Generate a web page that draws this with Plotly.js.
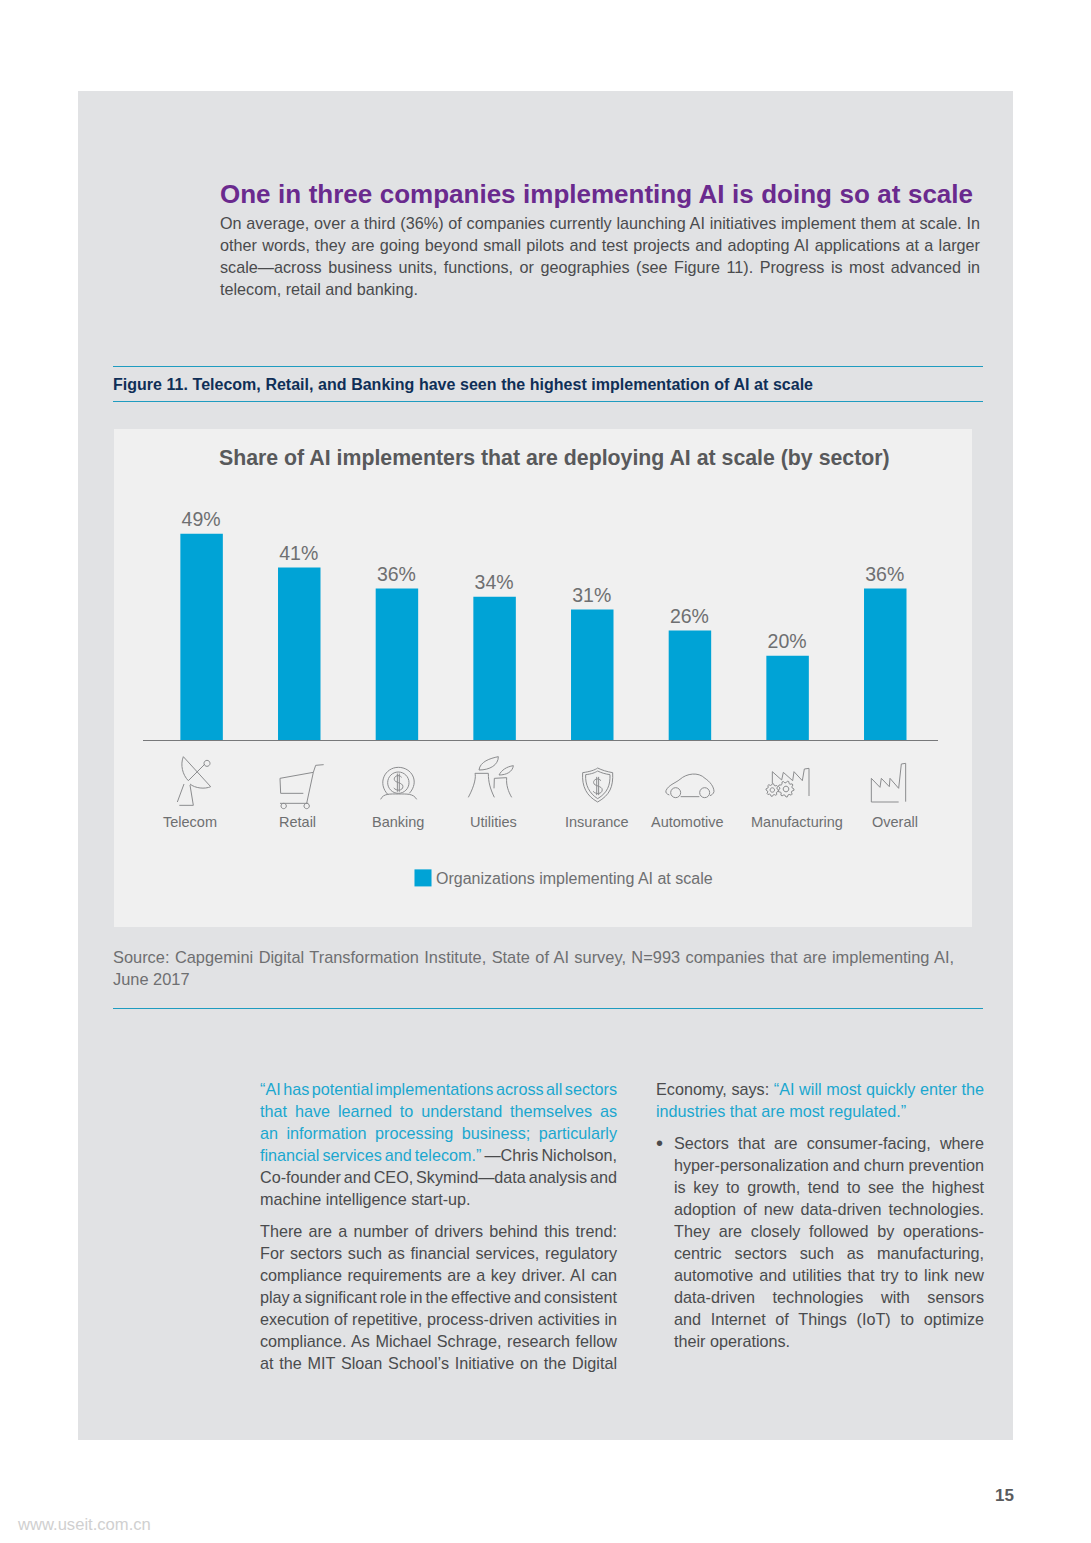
<!DOCTYPE html>
<html><head><meta charset="utf-8">
<script src="https://cdn.plot.ly/plotly-3.0.1.min.js"></script>
<style>html,body{margin:0;padding:0;background:#fff}</style></head>
<body><div id="chart" style="width:1091px;height:1543px"></div>
<script>
const W = 1091, H = 1543;
const categories = ["Telecom","Retail","Banking","Utilities","Insurance","Automotive","Manufacturing","Overall"];
const shareAtScale = [49,41,36,34,31,26,20,36];
const dataLabels = ["49%","41%","36%","34%","31%","26%","20%","36%"];
const seriesName = "Organizations implementing AI at scale";
const labelShift = [-12,-2,1,-1.5,4.5,-2,9,10];

const FONT = "Liberation Sans, Arial, sans-serif";
const GREY = "#6e6f71", BODY = "#4a4b4d", TEAL = "#1ba7cf", LINE = "#1f9cc0";
const px = x => x / W, py = y => 1 - y / H;

const annotations = [], justify = [];
function txt(x, y, text, o) {
  o = o || {};
  if (o.w) justify.push({ i: annotations.length, w: o.w });
  annotations.push({ xref: "paper", yref: "paper", x: px(x), y: py(y - 1), text, showarrow: false,
    xanchor: o.anchor || "left", yanchor: "middle", align: o.anchor === "center" ? "center" : "left",
    borderpad: 0, borderwidth: 0,
    font: { family: FONT, size: o.size || 16.2, color: o.color || BODY } });
}
const q = s => '<span style="color:' + TEAL + '">' + s + '</span>';

// heading
txt(220, 195, "<b>One in three companies implementing AI is doing so at scale</b>", { size: 26, color: "#6a2a8e", w: 753 });
["On average, over a third (36%) of companies currently launching AI initiatives implement them at scale. In",
 "other words, they are going beyond small pilots and test projects and adopting AI applications at a larger",
 "scale—across business units, functions, or geographies (see Figure 11). Progress is most advanced in"
].forEach((s, i) => txt(219.5, 224 + 22 * i, s, { w: 760 }));
txt(219.5, 290, "telecom, retail and banking.");
txt(113, 385, "<b>Figure 11. Telecom, Retail, and Banking have seen the highest implementation of AI at scale</b>", { size: 16, color: "#0f2f57", w: 700 });
txt(554, 458.5, "<b>Share of AI implementers that are deploying AI at scale (by sector)</b>", { size: 21.3, color: "#58595b", anchor: "center" });
txt(113, 958, "Source: Capgemini Digital Transformation Institute, State of AI survey, N=993 companies that are implementing AI,", { size: 16.4, color: GREY, w: 841 });
txt(113, 980, "June 2017", { size: 16.4, color: GREY });

// left column
[q("“AI has potential implementations across all sectors"),
 q("that have learned to understand themselves as"),
 q("an information processing business; particularly"),
 q("financial services and telecom.”") + " —Chris Nicholson,",
 "Co-founder and CEO, Skymind—data analysis and"
].forEach((s, i) => txt(260, 1090 + 22 * i, s, { w: 357 }));
txt(260, 1200, "machine intelligence start-up.");
["There are a number of drivers behind this trend:",
 "For sectors such as financial services, regulatory",
 "compliance requirements are a key driver. AI can",
 "play a significant role in the effective and consistent",
 "execution of repetitive, process-driven activities in",
 "compliance. As Michael Schrage, research fellow",
 "at the MIT Sloan School’s Initiative on the Digital"
].forEach((s, i) => txt(260, 1232 + 22 * i, s, { w: 357 }));

// right column
txt(656, 1090, "Economy, says: " + q("“AI will most quickly enter the"), { w: 328 });
txt(656, 1112, q("industries that are most regulated.”"));
txt(656, 1144, "•", { size: 20 });
["Sectors that are consumer-facing, where",
 "hyper-personalization and churn prevention",
 "is key to growth, tend to see the highest",
 "adoption of new data-driven technologies.",
 "They are closely followed by operations-",
 "centric sectors such as manufacturing,",
 "automotive and utilities that try to link new",
 "data-driven technologies with sensors",
 "and Internet of Things (IoT) to optimize"
].forEach((s, i) => txt(674, 1144 + 22 * i, s, { w: 310 }));
txt(674, 1342, "their operations.");

txt(1013.5, 1496, "<b>15</b>", { size: 17, color: "#5a5b5d", anchor: "right" });
txt(17, 1525, "www.useit.com.cn", { size: 16.6, color: "#d0d0d0" });

// sector names under the icons, tied to the category axis
categories.forEach((c, i) => annotations.push({
  xref: "x", yref: "paper", x: i, y: py(822), xshift: labelShift[i], text: c, showarrow: false,
  xanchor: "center", yanchor: "middle", font: { family: FONT, size: 14.5, color: GREY } }));

// page furniture
const rect = (x0, y0, x1, y1, fill) => ({ type: "rect", xref: "paper", yref: "paper", layer: "below",
  x0: px(x0), x1: px(x1), y0: py(y0), y1: py(y1), fillcolor: fill, line: { width: 0 } });
const hline = (y) => ({ type: "line", xref: "paper", yref: "paper", layer: "below",
  x0: px(113), x1: px(983), y0: py(y), y1: py(y), line: { color: LINE, width: 1 } });
const shapes = [rect(78, 91, 1013, 1440, "#e1e2e4"), rect(114, 429, 972, 927, "#f0f0f0"),
  hline(366.5), hline(401.5), hline(1008.5)];

// icons: outlines written in zoomed (3x) coordinates around an origin on the page
function circle(cx, cy, r) {
  const k = 0.5523 * r;
  return `M${cx - r},${cy} C${cx - r},${cy - k} ${cx - k},${cy - r} ${cx},${cy - r} C${cx + k},${cy - r} ${cx + r},${cy - k} ${cx + r},${cy} C${cx + r},${cy + k} ${cx + k},${cy + r} ${cx},${cy + r} C${cx - k},${cy + r} ${cx - r},${cy + k} ${cx - r},${cy} `;
}
function gear(cx, cy, r, teeth) {
  let d = "";
  for (let i = 0; i < teeth * 4; i++) {
    const a = i / (teeth * 4) * 2 * Math.PI, R = (i % 4 < 2) ? r : r * 0.78;
    d += (i ? "L" : "M") + (cx + R * Math.cos(a)).toFixed(1) + "," + (cy + R * Math.sin(a)).toFixed(1) + " ";
  }
  return d + "Z " + circle(cx, cy, r * 0.35);
}
function dollar(cx, cy, s) {
  const X = v => cx + v * s, Y = v => cy + v * s;
  return `M${X(14)},${Y(-22)} C${X(2)},${Y(-36)} ${X(-18)},${Y(-28)} ${X(-17)},${Y(-14)} C${X(-16)},${Y(2)} ${X(19)},${Y(-2)} ${X(19)},${Y(16)} C${X(19)},${Y(34)} ${X(-8)},${Y(36)} ${X(-19)},${Y(22)} M${X(-4)},${Y(-38)} L${X(-4)},${Y(38)} M${X(4)},${Y(-38)} L${X(4)},${Y(38)} `;
}
function iconPath(ox, oy, d) {
  return d.replace(/(-?[\d.]+),(-?[\d.]+)/g, (m, a, b) =>
    px(ox + a / 3).toFixed(6) + "," + py(oy + b / 3).toFixed(6));
}
const iconsA = [
  "M130,50 C120,75 128,105 145,122 L195,72 M130,50 L212,140 " + circle(201, 70, 9) +
  "M150,132 C165,145 195,148 212,140 M132,132 L112,186 M118,196 L160,196 M150,135 L160,196",
  "M420,115 L520,97 L500,190 M520,97 L527,76 L551,74 M420,115 L422,160 L490,160 M420,190 L505,190 " +
  circle(431, 198, 8) + circle(500, 198, 8),
  "M722,178 C730,160 750,162 775,162 C800,162 820,160 830,178 M745,165 C710,130 735,82 775,82 C815,82 840,125 808,160 " +
  circle(775, 128, 32) + dollar(775, 128, 0.72),
  "M985,172 C1005,135 1008,110 1005,100 L1045,100 C1045,125 1050,145 1063,172 M1063,115 L1100,113 C1098,135 1105,155 1115,172 M1063,115 L1062,145 " +
  "M1017,90 C1020,65 1050,55 1075,50 C1075,75 1050,90 1017,90 M1077,105 C1085,90 1100,80 1120,77 C1118,95 1100,105 1077,105"
];
const iconsB = [
  "M128,98 C150,95 165,90 173,84 C185,90 200,95 218,98 C220,140 210,165 173,186 C140,168 125,140 128,98 Z " +
  "M137,104 C155,102 165,98 173,93 C183,98 195,102 210,104 C211,135 203,158 173,176 C148,160 135,135 137,104 Z " +
  dollar(173, 138, 0.72),
  "M388,165 C380,162 376,158 378,152 C385,135 405,130 420,118 C440,100 475,95 495,115 C510,125 522,140 522,155 C520,162 515,165 510,167 M478,170 L422,170 " +
  circle(407, 158, 15) + circle(494, 158, 15),
  "M697,130 L697,95 L725,120 L730,97 L758,122 L762,95 L787,122 L793,87 L807,85 L807,168 " +
  gear(697, 150, 19, 8) + gear(738, 147, 24, 9),
  "M994,186 L994,115 L1020,142 L1024,115 L1048,140 L1050,115 L1076,145 L1084,72 L1097,70 L1097,185 M994,186 L1076,186"
];
iconsA.concat(iconsB).forEach((d, i) => shapes.push({ type: "path", xref: "paper", yref: "paper", layer: "below",
  path: iconPath(i < 4 ? 140 : 540, 740, d), line: { color: "#8b8c8e", width: 1 }, fillcolor: "rgba(0,0,0,0)" }));

const trace = { type: "bar", x: categories, y: shareAtScale, name: seriesName,
  text: dataLabels, textposition: "outside", cliponaxis: false,
  textfont: { family: FONT, size: 19.5, color: GREY },
  marker: { color: "#00a3d6", line: { width: 0 } }, width: 0.435, hoverinfo: "skip" };

const layout = { width: W, height: H, margin: { l: 0, r: 0, t: 0, b: 0, pad: 0 }, autosize: false,
  paper_bgcolor: "#ffffff", plot_bgcolor: "rgba(0,0,0,0)", showlegend: true, font: { family: FONT },
  legend: { x: px(403), y: py(878), xanchor: "left", yanchor: "middle", orientation: "h",
    bgcolor: "rgba(0,0,0,0)", borderwidth: 0, font: { family: FONT, size: 16, color: GREY } },
  xaxis: { domain: [px(143), px(938)], range: [-0.6, 7.54], type: "category", tickmode: "array",
    tickvals: [], showgrid: false, zeroline: false, showline: true, linecolor: "#77787a", linewidth: 1,
    fixedrange: true, anchor: "y" },
  yaxis: { domain: [py(740), py(529.5)], range: [0, 50], visible: false, fixedrange: true },
  annotations, shapes, bargap: 0.565 };

Plotly.newPlot("chart", [trace], layout, { staticPlot: true, displayModeBar: false, responsive: false }).then(gd => {
  const els = gd.querySelectorAll(".annotation-text");
  justify.forEach(j => {
    const el = els[j.i];
    const len = el.getComputedTextLength();
    const spaces = (el.textContent.match(/ /g) || []).length;
    if (spaces) el.style.wordSpacing = ((j.w - len) / spaces).toFixed(3) + "px";
  });
  gd.querySelectorAll(".legendpoints path").forEach(p => {
    const t = p.getAttribute("transform") || "";
    p.setAttribute("transform", t + " scale(1.42)");
  });
  gd.querySelectorAll(".legendtext").forEach(t => {
    t.setAttribute("x", parseFloat(t.getAttribute("x")) - 7);
  });
  gd.querySelectorAll(".bartext").forEach(t => {
    const tr = t.getAttribute("transform") || "";
    t.setAttribute("transform", "translate(-0.5,-0.5) " + tr);
  });
});
</script></body></html>
